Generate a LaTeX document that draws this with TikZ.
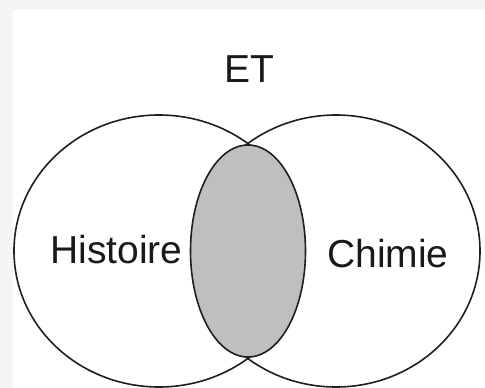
\documentclass[tikz,border=0pt]{standalone}
\usepackage{fontspec}
\setmainfont{Liberation Sans}
\begin{document}
\begin{tikzpicture}[x=1pt,y=-1pt,
  outline/.style={draw=black!88,line width=1.6pt},
  lbl/.style={inner sep=0pt,font=\fontsize{39}{44}\selectfont,text=black!90}]
\useasboundingbox (0,0) rectangle (485,388);
\fill[black!4] (0,0) rectangle (485,388);
\fill[white] (13,10) rectangle (485,388);
\clip (0,0) rectangle (485,388);
\draw[outline] (159,251) ellipse [x radius=145, y radius=136];
\draw[outline] (336,251) ellipse [x radius=144, y radius=136];
\draw[outline,fill=black!25] (248,251) ellipse [x radius=57.5, y radius=106];
\node[lbl,anchor=base] (et) at (249,82) {ET};
\node[lbl,anchor=base west] (hist) at (50,263) {Histoire};
\node[lbl,anchor=base west] (chim) at (327,267) {Chimie};
\end{tikzpicture}
\end{document}
